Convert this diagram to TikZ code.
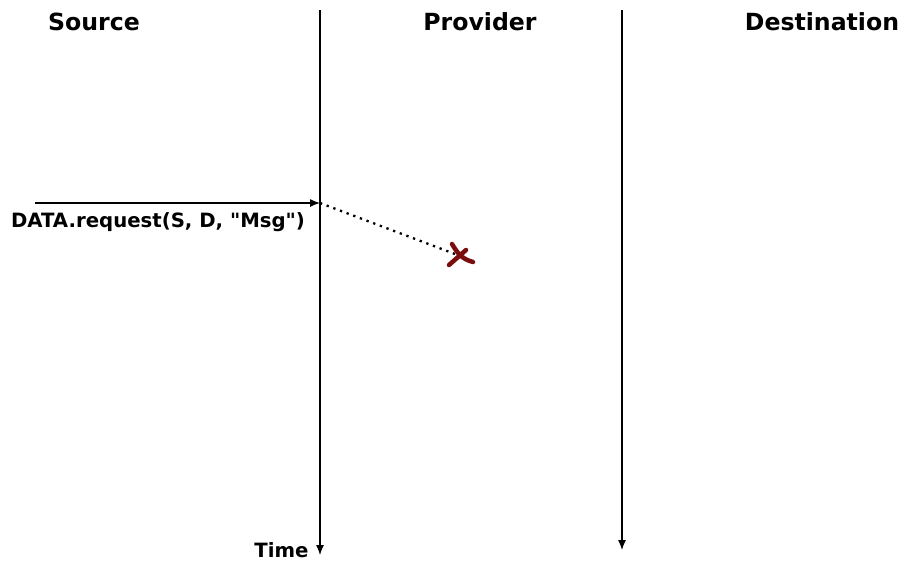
\documentclass[tikz,border=0pt]{standalone}
\usepackage{fontspec}
\setmainfont{DejaVu Sans}[Ligatures=TeXOff]
\usepackage{tikz}
\usetikzlibrary{arrows.meta}
\definecolor{lossred}{RGB}{122,14,14}

\begin{document}
\begin{tikzpicture}[x=1pt,y=-1pt,
	head/.style={font=\bfseries\fontsize{23.6}{27}\selectfont},
	lbl/.style={font=\bfseries\fontsize{19.7}{22}\selectfont},
	tl/.style={line width=1.2pt,-{Latex[length=10pt,width=8pt]}}]
				\useasboundingbox (0,0) rectangle (909,563);
				\node [head] (src) at (94,22) {Source};
				\node [head] (prov) at (480,22) {Provider};
				\node [head] (dest) at (822,22) {Destination};
				% time lines
				\coordinate (srcTop) at (320,10);
				\coordinate (srcEnd) at (320,555);
				\coordinate (provTop) at (622,10);
				\coordinate (provEnd) at (622,550);
				\draw [tl] (srcTop) -- (srcEnd);
				\draw [tl] (provTop) -- (provEnd);
				\node [lbl, anchor=east] (time) at (312,550) {Time};
				% request
				\coordinate (reqStart) at (35,203);
				\coordinate (reqHit) at (320,203);
				\coordinate (lost) at (455,254);
				\draw [tl] (reqStart) -- (reqHit);
				\node [lbl] (req) at (158,222) {DATA.request(S, D, "Msg")};
				\draw [line width=2.3pt, dash pattern=on 2.3pt off 4.8pt] (reqHit) -- (lost);
				\draw [lossred, line width=4.5pt, line cap=round] (452,244) .. controls (458,254) and (462,259) .. (473,262);
				\draw [lossred, line width=4.5pt, line cap=round] (466,250) -- (449,265);
\end{tikzpicture}
\end{document}
